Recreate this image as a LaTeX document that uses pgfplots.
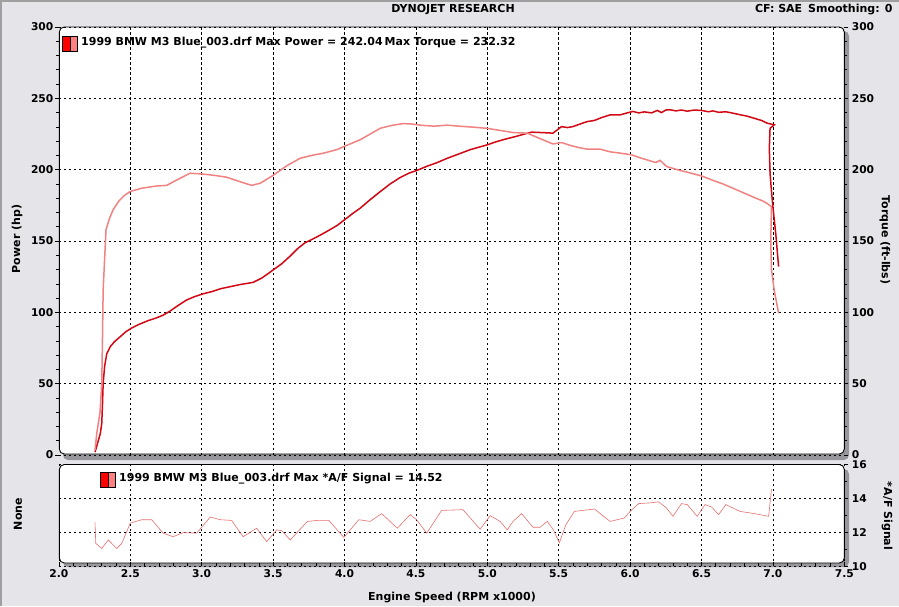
\documentclass[border=0pt]{standalone}
\usepackage{fontspec}
\setmainfont{DejaVu Sans}
\usepackage{pgfplots}
\pgfplotsset{compat=1.18}
\definecolor{bg}{RGB}{229,228,232}
\definecolor{pw}{RGB}{210,8,20}
\definecolor{tq}{RGB}{240,130,130}
\definecolor{af}{RGB}{232,112,112}
\definecolor{shad}{RGB}{150,150,156}
\pgfplotsset{dyn/.style={scale only axis, width=785.4pt, xmin=2, xmax=7.5,
  anchor=south west,
  axis line style={draw=none},
  tick style={black, line width=0.6pt},
  major tick length=4pt, minor tick length=3pt, tick align=outside,
  major grid style={black, line width=0.5pt, dash pattern=on 2.5pt off 2.5pt},
  ticklabel style={font=\bfseries\fontsize{10.7}{12}\selectfont},
  /pgf/number format/assume math mode=true}}
\begin{document}
\begin{tikzpicture}[x=1pt,y=1pt]
\fill[bg] (0,0) rectangle (899,606);
\useasboundingbox (0,0) rectangle (899,606);
\fill[gray!75] (0,603.5) rectangle (899,606);
\fill[gray!75] (0,0) rectangle (1.5,606);
% panel shadows and backgrounds
\fill[shad, rounded corners=5pt] (63,146) rectangle (849,575);
\fill[white, rounded corners=5pt] (59.3,152) rectangle (844.3,579);
\fill[shad, rounded corners=5pt] (63,39) rectangle (849,137);
\fill[white, rounded corners=5pt] (59.3,43) rectangle (844.3,141.5);

% ---------- top panel: power ----------
\begin{axis}[dyn, at={(58.9pt,151pt)}, height=428pt, ymin=0, ymax=300,
  xtick={2.5,3,...,7}, xticklabels={}, xtick style={draw=none},
  ytick={0,50,...,300}, minor y tick num=4, ytick pos=left, yticklabel pos=left,
  yticklabel style={xshift=2pt},
  xmajorgrids, ymajorgrids]
\addplot[pw, line width=1.5pt] coordinates {
(2.253,2) (2.27,8) (2.29,15) (2.30,22) (2.305,35) (2.31,50) (2.32,62) (2.335,71)
(2.36,76) (2.39,79.5) (2.43,83) (2.47,86.5) (2.51,89) (2.56,91.5) (2.62,94) (2.68,96)
(2.73,98) (2.78,101) (2.83,104.5) (2.895,108.7) (2.95,111) (3.01,113) (3.07,114.5)
(3.13,116.5) (3.20,118) (3.27,119.5) (3.36,121) (3.42,124) (3.47,127.5) (3.50,129.7)
(3.56,134) (3.62,139.5) (3.67,144.5) (3.72,148.5) (3.80,152.5) (3.875,156.6) (3.95,161)
(4.015,166) (4.06,169.5) (4.11,173) (4.18,179) (4.25,184.6) (4.32,190) (4.39,194.5)
(4.45,197.5) (4.505,199.4) (4.58,202.5) (4.65,205) (4.72,208) (4.80,211) (4.88,214)
(4.95,216) (5.0,217.4) (5.06,219.5) (5.13,221.5) (5.19,223) (5.24,224.4) (5.31,226.3)
(5.38,226) (5.46,225.6) (5.52,230.2) (5.56,229.5) (5.60,230.2) (5.65,232) (5.70,233.7)
(5.75,234.5) (5.80,236.5) (5.86,238.4) (5.93,238.4) (5.98,239.8) (6.02,240.8) (6.06,239.8)
(6.10,240.5) (6.15,239.8) (6.19,241.5) (6.22,240) (6.25,241.8) (6.28,242.0) (6.32,241.2)
(6.36,241.8) (6.40,241) (6.45,241.8) (6.50,241.5) (6.55,240.6) (6.58,241.2) (6.62,240.2)
(6.67,240.6) (6.72,239.6) (6.77,238.5) (6.82,237.5) (6.87,236) (6.92,234.5) (6.96,232.6)
(7.01,231.4) (6.98,229) (6.975,215) (6.98,197.5) (6.99,185) (7.0,174) (7.02,155) (7.04,132)
};
\end{axis}

% ---------- top panel: torque (right axis) ----------
\begin{axis}[dyn, at={(58.9pt,151pt)}, height=428pt, ymin=0, ymax=300,
  xtick=\empty,
  ytick={0,50,...,300}, minor y tick num=4, ytick pos=right, yticklabel pos=right]
\addplot[tq, line width=1.5pt] coordinates {
(2.253,3.5) (2.265,15) (2.288,30) (2.30,50) (2.305,80) (2.31,116) (2.33,158) (2.355,166)
(2.38,172) (2.42,178) (2.46,182) (2.5,184.7) (2.58,187) (2.68,188.5) (2.755,189)
(2.82,192.5) (2.918,197.5) (3.0,197) (3.09,196) (3.175,194.7) (3.27,191.5) (3.35,189)
(3.41,190.5) (3.5,196) (3.6,203) (3.69,208) (3.77,210) (3.85,211.5) (3.945,214)
(4.015,217) (4.11,221) (4.18,225) (4.25,229) (4.33,231) (4.41,232.3) (4.47,232)
(4.55,231) (4.63,230.5) (4.72,231.2) (4.8,230.5) (4.9,229.8) (4.996,229) (5.09,227.5)
(5.18,226) (5.28,225.6) (5.34,223) (5.40,220.5) (5.46,218) (5.52,219) (5.58,217)
(5.64,215.5) (5.70,214.4) (5.79,214.4) (5.86,212.5) (5.93,211.6) (6.01,210.4) (6.08,208)
(6.13,206.5) (6.18,205) (6.21,206.5) (6.256,202.2) (6.33,200) (6.41,198) (6.5,195.6)
(6.58,192.5) (6.65,190) (6.72,187) (6.80,183.5) (6.87,180.5) (6.93,178) (6.957,176.5)
(6.99,174) (6.985,150) (6.99,130) (7.01,115) (7.04,99.4)
};
\end{axis}

% ---------- bottom panel: A/F ----------
\begin{axis}[dyn, at={(58.9pt,39.7pt)}, height=102pt, ymin=10, ymax=16,
  xtick={2,2.5,...,7.5}, minor x tick num=4, xtick pos=left, xtick align=inside,
  xticklabel style={/pgf/number format/.cd, fixed, fixed zerofill, precision=1},
  ytick={10,12,14,16}, minor y tick num=1, ytick pos=right, yticklabel pos=right,
  xmajorgrids, ymajorgrids]
\addplot[af, line width=0.6pt] coordinates {
(2.253,12.58) (2.258,11.35) (2.30,11.05) (2.346,11.55) (2.405,11.05) (2.44,11.35)
(2.50,12.54) (2.58,12.74) (2.65,12.74) (2.73,11.95) (2.80,11.74) (2.87,11.98)
(2.965,11.95) (3.06,12.9) (3.13,12.74) (3.21,12.7) (3.29,11.74) (3.385,12.24)
(3.455,11.45) (3.525,12.14) (3.56,12.1) (3.62,11.55) (3.74,12.64) (3.81,12.7)
(3.89,12.7) (3.995,11.7) (4.10,12.74) (4.18,12.64) (4.26,13.1) (4.37,12.24)
(4.46,13.04) (4.505,12.74) (4.576,11.95) (4.68,13.29) (4.83,13.33) (4.95,12.18)
(5.02,12.98) (5.09,12.64) (5.14,12.14) (5.18,12.64) (5.24,13.1) (5.32,12.3)
(5.37,12.3) (5.42,12.64) (5.46,12.18) (5.505,11.39) (5.55,12.44) (5.61,13.23)
(5.75,13.37) (5.86,12.64) (5.96,12.84) (6.0,13.23) (6.06,13.69) (6.14,13.73)
(6.2,13.79) (6.255,13.43) (6.30,12.94) (6.36,13.69) (6.40,13.63) (6.47,12.94)
(6.525,13.63) (6.57,13.49) (6.62,13.04) (6.67,13.63) (6.77,13.23) (6.87,13.1)
(6.97,12.94) (6.99,14.52)
};
\end{axis}

% borders
\draw[black, line width=0.9pt, rounded corners=5pt] (59.3,152) rectangle (844.3,579);
\draw[black, line width=0.9pt, rounded corners=5pt] (59.3,43) rectangle (844.3,141.5);

% legends
\draw[black, line width=0.6pt, fill=red] (62.3,554.3) rectangle (70,570);
\draw[black, line width=0.6pt, fill={rgb,255:red,255;green,128;blue,128}] (70,554.3) rectangle (77.7,570);
\node[anchor=west, inner sep=0, font=\bfseries\fontsize{11}{13}\selectfont] at (81,563)
  {1999 BMW M3 Blue\_003.drf Max Power = 242.04\kern2pt Max Torque = 232.32};
\draw[black, line width=0.6pt, fill=red] (100,118.3) rectangle (107.8,133.7);
\draw[black, line width=0.6pt, fill={rgb,255:red,255;green,128;blue,128}] (107.8,118.3) rectangle (115.7,133.7);
\node[anchor=west, inner sep=0, font=\bfseries\fontsize{11}{13}\selectfont] at (119,127)
  {1999 BMW M3 Blue\_003.drf Max *A/F Signal = 14.52};

% titles and axis labels
\node[font=\bfseries\fontsize{11}{13}\selectfont] at (453,596) {DYNOJET RESEARCH};
\node[anchor=east, font=\bfseries\fontsize{11}{13}\selectfont] at (896,596) {CF: SAE\kern6pt Smoothing: 0};
\node[rotate=90, font=\bfseries\fontsize{11}{13}\selectfont] at (17,367) {Power (hp)};
\node[rotate=90, font=\bfseries\fontsize{11}{13}\selectfont] at (18,92) {None};
\node[rotate=-90, font=\bfseries\fontsize{11}{13}\selectfont] at (885,366) {Torque (ft-lbs)};
\node[rotate=-90, font=\bfseries\fontsize{11}{13}\selectfont] at (887,90) {*A/F Signal};
\node[font=\bfseries\fontsize{11}{13}\selectfont] at (452,8) {Engine Speed (RPM x1000)};
\end{tikzpicture}
\end{document}
